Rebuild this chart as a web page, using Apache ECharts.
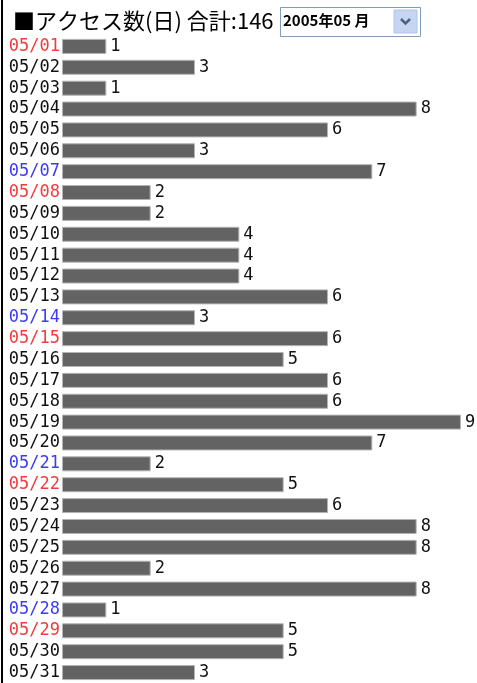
<!DOCTYPE html>
<html>
<head>
<meta charset="utf-8">
<script src="https://cdn.jsdelivr.net/npm/echarts@6/dist/echarts.min.js"></script>
<style>
  html, body { margin: 0; padding: 0; background: #fff; }
  #chart { width: 477px; height: 683px; }
</style>
</head>
<body>
<div id="chart"></div>
<script>
  // daily access counts, May 2005
  const days = ['05/01', '05/02', '05/03', '05/04', '05/05', '05/06', '05/07', '05/08', '05/09', '05/10',
    '05/11', '05/12', '05/13', '05/14', '05/15', '05/16', '05/17', '05/18', '05/19', '05/20',
    '05/21', '05/22', '05/23', '05/24', '05/25', '05/26', '05/27', '05/28', '05/29', '05/30', '05/31']
  const counts = [1, 3, 1, 8, 6, 3, 7, 2, 2, 4, 4, 4, 6, 3, 6, 5, 6, 6, 9, 7, 2, 5, 6, 8, 8, 2, 8, 1, 5, 5, 3]
  // 0 = weekday, 1 = saturday, 2 = sunday
  const dayKind = [2, 0, 0, 0, 0, 0, 1, 2, 0, 0, 0, 0, 0, 1, 2, 0, 0, 0, 0, 0, 1, 2, 0, 0, 0, 0, 0, 1, 2, 0, 0]
  const total = counts.reduce((a, b) => a + b, 0)

  const labelFont = 'DejaVu Sans Mono'
  const kindColors = ['#111', '#3c3cf0', '#f03c3c']

  const chart = echarts.init(document.getElementById('chart'))

  const option = {
    animation: false,
    title: {
      text: '■アクセス数(日) 合計:' + total,
      left: 8,
      top: 5,
      textStyle: {
        fontFamily: 'Noto Sans CJK JP',
        fontSize: 22,
        fontWeight: 'normal',
        color: '#000'
      }
    },
    grid: {
      left: 62,
      top: 36,
      width: 399,
      height: 651
    },
    xAxis: {
      type: 'value',
      min: 0,
      max: 9,
      show: false
    },
    yAxis: {
      type: 'category',
      inverse: true,
      data: days,
      axisLine: { show: false },
      axisTick: { show: false },
      axisLabel: {
        interval: 0,
        hideOverlap: false,
        margin: 2,
        fontFamily: labelFont,
        fontSize: 17,
        color: function (value) {
          return kindColors[dayKind[days.indexOf(value)]]
        }
      }
    },
    series: [
      {
        type: 'bar',
        data: counts,
        barWidth: 15,
        itemStyle: {
          color: '#636363',
          borderColor: '#b4b4b4',
          borderWidth: 1
        },
        label: {
          show: true,
          position: 'right',
          distance: 4,
          fontFamily: labelFont,
          fontSize: 17,
          color: '#111'
        }
      }
    ],
    graphic: [
      {
        type: 'rect',
        shape: { x: 1, y: 0, width: 2, height: 683 },
        style: { fill: '#000' }
      },
      {
        type: 'rect',
        shape: { x: 280.5, y: 7.5, width: 140, height: 29 },
        style: { fill: '#fff', stroke: '#7f9db9', lineWidth: 1 }
      },
      {
        type: 'rect',
        shape: { x: 394, y: 10, width: 23, height: 23 },
        style: { fill: '#c6d6f2', stroke: '#b0c4e8', lineWidth: 1 }
      },
      {
        type: 'polyline',
        shape: { points: [[401, 19], [405.5, 23.5], [410, 19]] },
        style: { stroke: '#4d6185', lineWidth: 2.5, fill: null }
      },
      {
        type: 'text',
        x: 283,
        y: 13,
        style: {
          text: '2005年05 月',
          fontFamily: 'Noto Sans CJK JP',
          fontSize: 15,
          fontWeight: 'bold',
          fill: '#000'
        }
      }
    ]
  }

  chart.setOption(option)
</script>
</body>
</html>
